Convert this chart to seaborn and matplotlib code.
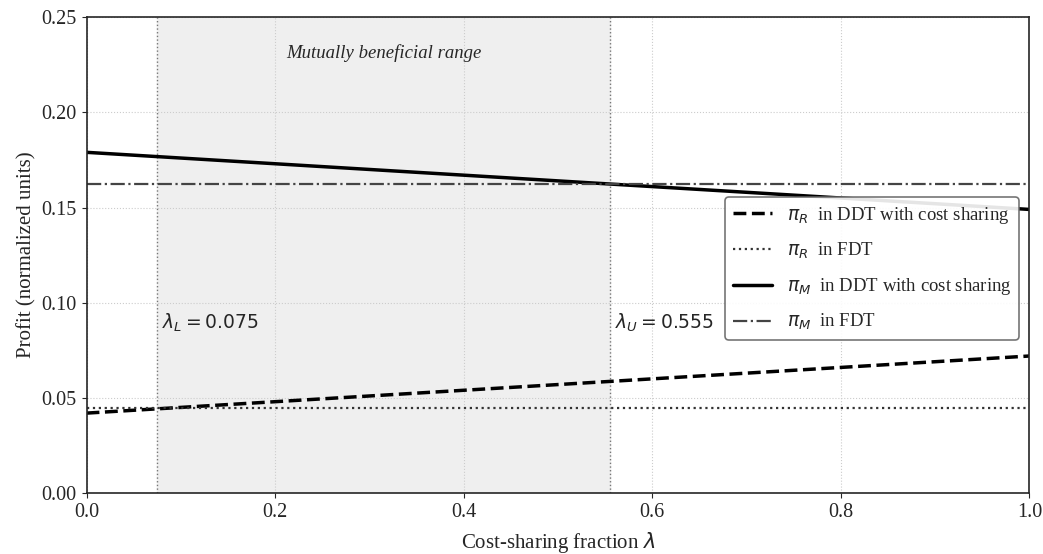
import matplotlib

matplotlib.use("Agg")
import matplotlib.pyplot as plt
import pandas as pd
import seaborn as sns

# values
lam = [0.0, 0.2, 0.4, 0.6, 0.8, 1.0]
pi_r_ddt = [0.042, 0.048, 0.054, 0.060, 0.066, 0.072]
pi_m_ddt = [0.179, 0.173, 0.167, 0.161, 0.155, 0.149]
pi_r_fdt = 0.0445
pi_m_fdt = 0.1623
lam_low = 0.075
lam_up = 0.555

sns.set_style("ticks")
plt.rcParams["font.family"] = ["Liberation Serif", "DejaVu Serif"]
plt.rcParams["mathtext.fontset"] = "dejavusans"

df = pd.DataFrame({
    "lam": lam,
    "pi_r_ddt": pi_r_ddt,
    "pi_m_ddt": pi_m_ddt,
    "pi_r_fdt": [pi_r_fdt] * len(lam),
    "pi_m_fdt": [pi_m_fdt] * len(lam),
})

fig, ax = plt.subplots(figsize=(10.43, 5.54), dpi=100)

ax.axvspan(lam_low, lam_up, color="#efefef", zorder=0)
ax.axvline(lam_low, color="#777777", ls=":", lw=1.0, zorder=1)
ax.axvline(lam_up, color="#777777", ls=":", lw=1.0, zorder=1)

sns.lineplot(data=df, x="lam", y="pi_r_ddt", ax=ax, color="black", lw=2.5,
             linestyle="--", label=r"$\pi_R$  in DDT with cost sharing")
sns.lineplot(data=df, x="lam", y="pi_r_fdt", ax=ax, color="#333333", lw=1.6,
             linestyle=":", label=r"$\pi_R$  in FDT")
sns.lineplot(data=df, x="lam", y="pi_m_ddt", ax=ax, color="black", lw=2.5,
             linestyle="-", label=r"$\pi_M$  in DDT with cost sharing")
sns.lineplot(data=df, x="lam", y="pi_m_fdt", ax=ax, color="#444444", lw=1.6,
             linestyle="-.", label=r"$\pi_M$  in FDT")

ax.set_xlim(0, 1)
ax.set_ylim(0, 0.25)
ax.set_xticks([0.0, 0.2, 0.4, 0.6, 0.8, 1.0])
ax.set_yticks([0.0, 0.05, 0.10, 0.15, 0.20, 0.25])
ax.set_yticklabels(["0.00", "0.05", "0.10", "0.15", "0.20", "0.25"])
ax.tick_params(labelsize=14.5)
ax.grid(True, ls=":", color="#cccccc", lw=0.8)
ax.set_axisbelow(True)

ax.text((lam_low + lam_up) / 2, 0.231, "Mutually beneficial range",
        ha="center", va="center", fontsize=13.5, style="italic")
ax.text(lam_low + 0.005, 0.0893, r"$\lambda_L = 0.075$", fontsize=13.5,
        va="center", ha="left")
ax.text(lam_up + 0.005, 0.0893, r"$\lambda_U = 0.555$", fontsize=13.5,
        va="center", ha="left")

ax.set_xlabel(r"Cost-sharing fraction $\lambda$", fontsize=15, labelpad=6)
ax.set_ylabel("Profit (normalized units)", fontsize=15)

leg = ax.legend(loc="upper right", bbox_to_anchor=(0.999, 0.641), fontsize=13.5,
                frameon=True, fancybox=True, handlelength=2.1, framealpha=0.9,
                labelspacing=0.8)
leg.get_frame().set_edgecolor("#666666")
leg.get_frame().set_linewidth(1.2)

for spine in ax.spines.values():
    spine.set_linewidth(1.2)

fig.subplots_adjust(left=0.083, right=0.987, top=0.969, bottom=0.11)
fig.savefig("out.png", dpi=100)
plt.close(fig)
